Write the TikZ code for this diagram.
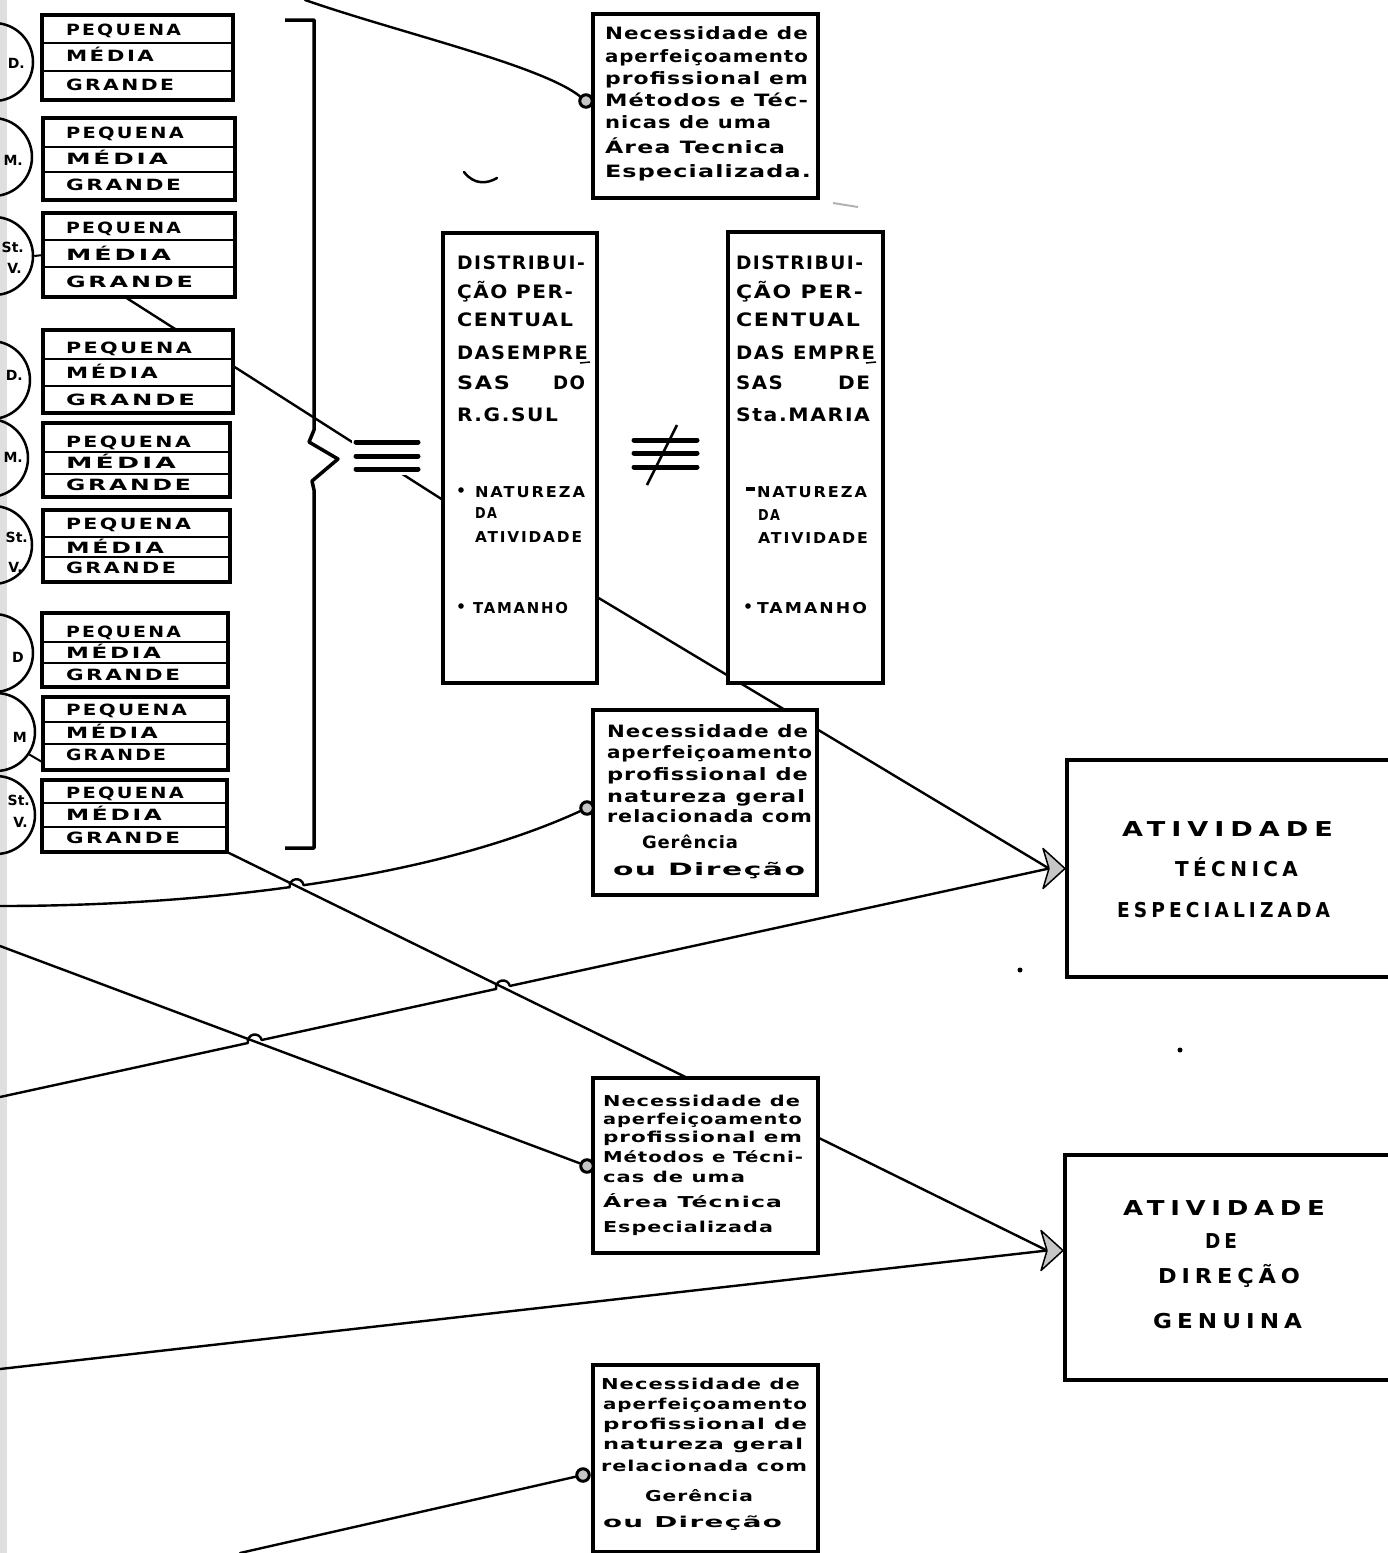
\documentclass[tikz,border=0pt]{standalone}
\usepackage{fontspec}
\setmainfont{DejaVu Sans}
\newfontfamily\fA[LetterSpace=12]{DejaVu Sans}
\newfontfamily\fB[LetterSpace=5]{DejaVu Sans}
\newfontfamily\fC[LetterSpace=8]{DejaVu Sans}
\newfontfamily\fD[LetterSpace=22]{DejaVu Sans}
\usepackage{graphicx}
\usetikzlibrary{calc,intersections}
\pgfdeclarelayer{back}\pgfdeclarelayer{lines}
\pgfsetlayers{back,lines,main}
\newsavebox\flbox
\newcommand\fl[2]{\sbox\flbox{#2}\pgfmathsetmacro\flr{(#1)/(\the\wd\flbox)}\scalebox{\flr}[1]{\usebox\flbox}}
\tikzset{
  conn/.style={line width=2.4pt, line cap=round},
  gbox/.style={draw, line width=3.5pt, fill=white, inner sep=0pt, outer sep=0pt, anchor=north west},
  bbox/.style={draw, line width=3.5pt, fill=white, inner sep=0pt, outer sep=0pt},
  divl/.style={line width=2pt},
  ln/.style={anchor=base west, inner sep=0pt, outer sep=0pt},
  gtxt/.style={ln, font=\fA\bfseries\fontsize{15.5}{15.5}\selectfont},
  ntxtA/.style={ln, font=\fB\bfseries\fontsize{17}{17}\selectfont},
  ntxtB/.style={ln, font=\fB\bfseries\fontsize{15}{15}\selectfont},
  htxt/.style={ln, font=\fC\bfseries\fontsize{18.5}{18.5}\selectfont},
  btxt/.style={ln, font=\fA\bfseries\fontsize{15}{15}\selectfont},
  atxt/.style={ln, font=\fD\bfseries\fontsize{20.5}{20.5}\selectfont},
  clab/.style={anchor=base east, inner sep=0pt, font=\bfseries\fontsize{14}{14}\selectfont},
  circ/.style={circle, draw, line width=2.5pt, minimum size=78pt, inner sep=0pt},
  dotc/.style={circle, draw, line width=3pt, fill=gray!45, minimum size=12.5pt, inner sep=0pt},
  bar/.style={line width=5pt, line cap=round},
  ahead/.style={draw, line width=1.5pt, fill=gray!45, line join=round},
}
\begin{document}
\begin{tikzpicture}[x=1pt,y=-1pt]
\useasboundingbox (0,0) rectangle (1387,1553);
\begin{pgfonlayer}{back}
\fill[white] (0,0) rectangle (1387,1553);
\fill[gray!25] (0,0) rectangle (7,1553);
\end{pgfonlayer}

% ---- left groups ----
\foreach \i/\xl/\xr/\yt/\yb/\da/\db/\tp/\tm/\tg/\wp/\wm/\wg in {
1/42/233/15/100/43/71/30/56/85/115/88/108,
2/43/235/118/200/147/172/133/159/185/118/102/115,
3/43/235/213/297/240/267/228/255/282/115/105/127,
4/43/233/330/413/359/386/348/373/400/126/92/129,
5/43/230/423/497/452/474/442/463/485/125/110/125,
6/43/230/510/582/537/557/524/548/568/125/98/110,
7/42/228/613/687/642/663/632/653/675/115/95/114,
8/43/228/697/770/722/744/710/733/755/121/92/100,
9/42/227/780/852/803/827/793/815/838/118/96/114}
{
  \node[gbox, minimum width=\xr pt-\xl pt, minimum height=\yb pt-\yt pt] (g\i) at (\xl,\yt) {};
  \draw[divl] (\xl,\da) -- (\xr,\da);
  \draw[divl] (\xl,\db) -- (\xr,\db);
  \node[gtxt] (gp\i) at (66,\tp+5.5) {\fl{\wp}{PEQUENA}};
  \node[gtxt] (gm\i) at (66,\tm+5.5) {\fl{\wm}{MÉDIA}};
  \node[gtxt] (gg\i) at (66,\tg+5.5) {\fl{\wg}{GRANDE}};
}

% ---- circles at left edge ----
\node[circ] (c1) at (-6,62) {};
\node[circ] (c2) at (-7,157) {};
\node[circ] (c3) at (-6,256) {};
\node[circ] (c4) at (-9,380) {};
\node[circ] (c5) at (-11,458) {};
\node[circ] (c6) at (-7,545) {};
\node[circ] (c7) at (-6,653) {};
\node[circ] (c8) at (-4,732) {};
\node[circ] (c9) at (-4,815) {};
\node[clab] (k1) at (25,68) {D.};
\node[clab] (k2) at (23,165) {M.};
\node[clab] (k3a) at (24,252) {St.};
\node[clab] (k3b) at (22,273) {V.};
\node[clab] (k4) at (23,380) {D.};
\node[clab] (k5) at (23,462) {M.};
\node[clab] (k6a) at (28,542) {St.};
\node[clab] (k6b) at (23,572) {V.};
\node[clab] (k7) at (24,662) {D};
\node[clab] (k8) at (27,742) {M};
\node[clab] (k9a) at (30,805) {St.};
\node[clab] (k9b) at (28,827) {V.};
\draw[divl] (c3.east) -- (g3.west);
\draw[divl] (c8.-34) -- ([yshift=-29pt]g8.west);

% ---- boxes ----
\node[bbox, minimum width=225pt, minimum height=184pt] (n1) at (705.5,106) {};
\node[bbox, minimum width=224pt, minimum height=185pt] (n2) at (705,802.5) {};
\node[bbox, minimum width=225pt, minimum height=175pt] (n3) at (705.5,1165.5) {};
\node[bbox, minimum width=225pt, minimum height=187pt] (n4) at (705.5,1458.5) {};
\node[bbox, line width=4pt, minimum width=154pt, minimum height=450pt] (rs) at (520,458) {};
\node[bbox, line width=4pt, minimum width=155pt, minimum height=451pt] (sm) at (805.5,457.5) {};
\node[bbox, line width=4pt, minimum width=333pt, minimum height=217pt] (atec) at (1233.5,868.5) {};
\node[bbox, line width=4pt, minimum width=335pt, minimum height=225pt] (atg) at (1232.5,1267.5) {};

% ---- texts of the necessity boxes ----
\foreach \x/\y/\w/\t [count=\k] in {605/39/203/Necessidade de, 605/62/203/aperfeiçoamento, 605/84/203/profissional em, 605/106/203/Métodos e Téc-, 605/128/166/nicas de uma, 605/153/180/Área Tecnica, 605/177/206/Especializada.}
  \node[ntxtA] (na\k) at (\x,\y) {\fl{\w}{\t}};
\foreach \x/\y/\w/\t [count=\k] in {607/737/201/Necessidade de, 607/758/205/aperfeiçoamento, 607/780/201/profissional de, 607/802/198/natureza geral, 607/822/205/relacionada com, 642/848/96/Gerência, 613/875/192/ou Direção}
  \node[ntxtA] (nb\k) at (\x,\y) {\fl{\w}{\t}};
\foreach \x/\y/\w/\t [count=\k] in {603/1106/197/Necessidade de, 603/1124/199/aperfeiçoamento, 603/1142/199/profissional em, 603/1162/200/Métodos e Técni-, 603/1182/142/cas de uma, 603/1207/179/Área Técnica, 603/1232/170/Especializada}
  \node[ntxtB] (nc\k) at (\x,\y) {\fl{\w}{\t}};
\foreach \x/\y/\w/\t [count=\k] in {601/1389/199/Necessidade de, 603/1409/204/aperfeiçoamento, 603/1429/204/profissional de, 603/1449/200/natureza geral, 601/1471/206/relacionada com, 645/1501/108/Gerência, 603/1527/179/ou Direção}
  \node[ntxtB] (nd\k) at (\x,\y) {\fl{\w}{\t}};

% ---- distribution boxes ----
\foreach \x/\y/\w/\t [count=\k] in {457/269.5/128/DISTRIBUI-, 457/298.5/116/ÇÃO PER-, 457/326.5/116/CENTUAL, 457/359.5/131/DASEMPRE, 457/389.5/53/SAS, 553/389.5/32/DO, 457/421.5/101/R.G.SUL}
  \node[htxt] (rh\k) at (\x,\y) {\fl{\w}{\t}};
\foreach \x/\y/\w/\t [count=\k] in {475/497/110/NATUREZA, 475/518/22/DA, 475/542/107/ATIVIDADE, 473/613/95/TAMANHO}
  \node[btxt] (rb\k) at (\x,\y) {\fl{\w}{\t}};
\foreach \x/\y/\w/\t [count=\k] in {736/269.5/127/DISTRIBUI-, 736/298.5/127/ÇÃO PER-, 736/326.5/124/CENTUAL, 736/359.5/139/DAS EMPRE, 736/389.5/47/SAS, 838/389.5/32/DE, 736/421.5/134/Sta.MARIA}
  \node[htxt] (sh\k) at (\x,\y) {\fl{\w}{\t}};
\foreach \x/\y/\w/\t [count=\k] in {757/497/110/NATUREZA, 758/520/22/DA, 758/543/110/ATIVIDADE, 757/613/110/TAMANHO}
  \node[btxt] (sb\k) at (\x,\y) {\fl{\w}{\t}};
\fill (461,490) circle[radius=2.8pt] (461,606) circle[radius=2.8pt];
\fill (746,487) rectangle (755,491);
\fill (748,606) circle[radius=2.8pt];
\draw[line width=1.5pt] (580,363) -- (590,362);
\draw[line width=1.5pt] (866,363) -- (876,362);

% ---- activity boxes ----
\foreach \x/\y/\w/\t [count=\k] in {1122/836/211/ATIVIDADE, 1175/876/123/TÉCNICA, 1117/917/213/ESPECIALIZADA}
  \node[atxt] (ta\k) at (\x,\y) {\fl{\w}{\t}};
\foreach \x/\y/\w/\t [count=\k] in {1123/1215/202/ATIVIDADE, 1205/1248/32/DE, 1158/1283/142/DIREÇÃO, 1153/1328/149/GENUINA}
  \node[atxt] (tb\k) at (\x,\y) {\fl{\w}{\t}};

% ---- dots ----
\node[dotc] (d1) at (586,101) {};
\node[dotc] (d2) at (587,808) {};
\node[dotc] (d3) at (587,1166) {};
\node[dotc] (d4) at (583,1475) {};

% ---- free ends and junctions ----
\coordinate (l1) at (305,0);
\coordinate (l4) at (0,906);
\coordinate (l6) at (0,946);
\coordinate (l7) at (0,1097);
\coordinate (l9) at (0,1369);
\coordinate (l10) at (240,1553);
\coordinate (a1) at ([xshift=-18pt]atec.west);
\coordinate (a2) at ([xshift=-18pt,yshift=17pt]atg.west);
\coordinate (s5) at (g9.south east);
\coordinate (e5) at ([xshift=-18pt]n3.north);

\begin{pgfonlayer}{lines}
\draw[conn] (l1) .. controls (400,33) and (540,65) .. (d1);
\draw[conn] ([xshift=-14pt]g3.south) -- ([yshift=-42pt]rs.west);
\draw[conn] ([yshift=-139pt]rs.east) -- (a1);
\draw[conn, name path=p4] (l4) .. controls (200,906) and (430,880) .. (d2);
\draw[conn, name path=p7] (l7) -- (a1);
\path[name path=p5] (s5) -- (e5);
\path[name path=p6] (l6) -- (d3);
\path[name intersections={of=p4 and p5, by=x45}];
\path[name intersections={of=p7 and p5, by=x57}];
\path[name intersections={of=p7 and p6, by=x67}];
\fill[white] (x45) circle[radius=7pt] (x57) circle[radius=7pt] (x67) circle[radius=7pt];
\draw[conn] ($(x45)+(189:7pt)$) arc[start angle=189, end angle=9, radius=7pt];
\draw[conn] ($(x57)+(192.5:7pt)$) arc[start angle=192.5, end angle=12.5, radius=7pt];
\draw[conn] ($(x67)+(192.5:7pt)$) arc[start angle=192.5, end angle=12.5, radius=7pt];
\draw[conn] (s5) -- (e5);
\draw[conn] (l6) -- (d3);
\draw[conn] ([yshift=28pt]n3.east) -- (a2);
\draw[conn] (l9) -- (a2);
\draw[conn] (l10) -- (d4);
\end{pgfonlayer}

% ---- arrowheads ----
\draw[ahead] ([xshift=-2pt]atec.west) -- ++(-22,-20) -- ++(6,20) -- ++(-6,20) -- cycle;
\draw[ahead] ([xshift=-2pt,yshift=17pt]atg.west) -- ++(-22,-20) -- ++(6,20) -- ++(-6,20) -- cycle;

% ---- bracket and signs ----
\draw[line width=3.5pt, line join=round] (285,20) -- (314,20) -- (314,430) -- (309,442) -- (338,459) -- (312,481) -- (314,490) -- (314,848) -- (285,848);
\fill[white] (352,436) rectangle (422,475);
\draw[bar] (356,442) -- (418,442);
\draw[bar] (356,456) -- (418,456);
\draw[bar] (356,469) -- (418,469);
\draw[bar] (634,440) -- (697,440);
\draw[bar] (634,453) -- (697,453);
\draw[bar] (634,467) -- (697,467);
\draw[line width=2.5pt] (677,425) -- (647,485);

% ---- stray marks ----
\draw[line width=2.5pt, line cap=round] (464,172) .. controls (474,185) and (487,184) .. (497,178);
\draw[gray!60, line width=2pt] (833,203) -- (858,207);
\fill (1020,970) circle[radius=2.5pt];
\fill (1180,1050) circle[radius=2.5pt];
\end{tikzpicture}
\end{document}
